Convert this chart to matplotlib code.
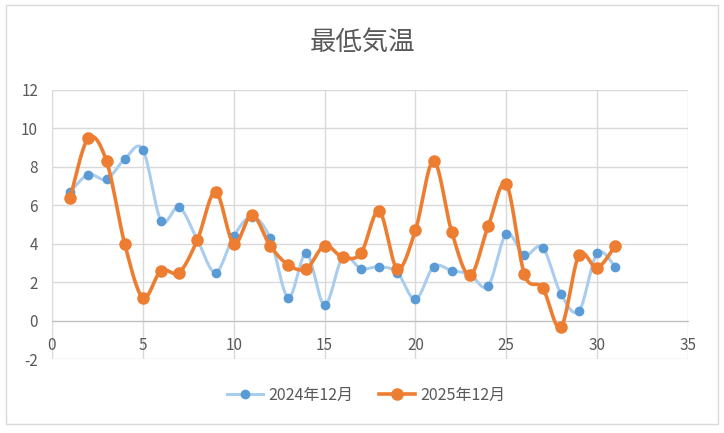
import numpy as np
import matplotlib
matplotlib.use("Agg")
import matplotlib.pyplot as plt
from matplotlib.lines import Line2D
from matplotlib.patches import Rectangle

plt.rcParams['font.family'] = ['Noto Sans CJK JP', 'DejaVu Sans']
plt.rcParams['axes.unicode_minus'] = False

days = list(range(1, 32))
temp_2024 = [6.7, 7.6, 7.35, 8.4, 8.9, 5.2, 5.9, 4.2, 2.5, 4.4,
             5.4, 4.3, 1.2, 3.5, 0.8, 3.3, 2.7, 2.8, 2.5, 1.1,
             2.8, 2.6, 2.4, 1.8, 4.5, 3.4, 3.8, 1.4, 0.5, 3.5, 2.8]
temp_2025 = [6.4, 9.5, 8.3, 4.0, 1.2, 2.6, 2.5, 4.2, 6.7, 4.0,
             5.5, 3.9, 2.9, 2.7, 3.9, 3.3, 3.5, 5.7, 2.7, 4.7,
             8.3, 4.6, 2.35, 4.9, 7.1, 2.4, 1.7, -0.35, 3.4, 2.75, 3.9]
series_labels = ['2024年12月', '2025年12月']
x_ticks = [0, 5, 10, 15, 20, 25, 30, 35]
y_ticks = [-2, 0, 2, 4, 6, 8, 10, 12]
title = '最低気温'


def smooth(xs, ys, n=20):
    """Excel-like smoothed line: cubic Bezier through the points."""
    P = np.column_stack([xs, ys]).astype(float)
    out = [P[0]]
    m = len(P)
    t = np.linspace(0, 1, n)[1:, None]
    for i in range(m - 1):
        p0 = P[i - 1] if i > 0 else P[i]
        p1 = P[i]
        p2 = P[i + 1]
        p3 = P[i + 2] if i + 2 < m else P[i + 1]
        c1 = p1 + (p2 - p0) / 6.0
        c2 = p2 - (p3 - p1) / 6.0
        seg = ((1 - t) ** 3) * p1 + 3 * ((1 - t) ** 2) * t * c1 + 3 * (1 - t) * t ** 2 * c2 + t ** 3 * p2
        out.extend(seg)
    out = np.array(out)
    return out[:, 0], out[:, 1]


fig = plt.figure(figsize=(7.24, 4.33), dpi=100)
fig.patch.set_facecolor('white')
fig.patches.append(Rectangle((6 / 724, 1 - 424 / 433), 712 / 724, 419 / 433,
                             transform=fig.transFigure, fill=False,
                             edgecolor='#d9d9d9', linewidth=1.0))

ax = fig.add_axes([52 / 724, 1 - 359 / 433, 636 / 724, 269 / 433])
ax.set_xlim(0, 35)
ax.set_ylim(-2, 12)
ax.set_xticks(x_ticks)
ax.set_yticks(y_ticks)
ax.grid(True, color='#d9d9d9', linewidth=1.0)
ax.set_axisbelow(True)
for s in ['top', 'right', 'left']:
    ax.spines[s].set_visible(False)
ax.spines['bottom'].set_position(('data', 0))
ax.spines['bottom'].set_color('#bfbfbf')
ax.tick_params(length=0, labelsize=11, labelcolor='#595959')
ax.tick_params(axis='y', pad=10)
ax.tick_params(axis='x', pad=11.5)

c24_line = '#a9cdee'
c24_mark = '#5b9bd5'
c25 = '#ed7d31'

sx, sy = smooth(days, temp_2024)
ax.plot(sx, sy, color=c24_line, linewidth=2.2, solid_capstyle='round', zorder=3)
ax.plot(days, temp_2024, linestyle='none', marker='o', markersize=6,
        color=c24_mark, zorder=4)

sx, sy = smooth(days, temp_2025)
ax.plot(sx, sy, color=c25, linewidth=2.6, solid_capstyle='round', zorder=5)
ax.plot(days, temp_2025, linestyle='none', marker='o', markersize=8,
        color=c25, zorder=6)

fig.text(362 / 724, 1 - 42 / 433, title, ha='center', va='center',
         fontsize=19, color='#595959')

handles = [Line2D([], [], color=c24_line, linewidth=2.2, marker='o', markersize=6,
                  markerfacecolor=c24_mark, markeredgecolor=c24_mark),
           Line2D([], [], color=c25, linewidth=2.6, marker='o', markersize=8,
                  markerfacecolor=c25, markeredgecolor=c25)]
leg = fig.legend(handles, series_labels, loc='center', bbox_to_anchor=(366 / 724, 1 - 395 / 433),
                 ncol=2, frameon=False, fontsize=11.5, handlelength=2.3, columnspacing=1.6,
                 handletextpad=0.3)
for t in leg.get_texts():
    t.set_color('#595959')

fig.savefig('out.png', dpi=100, facecolor='white')
